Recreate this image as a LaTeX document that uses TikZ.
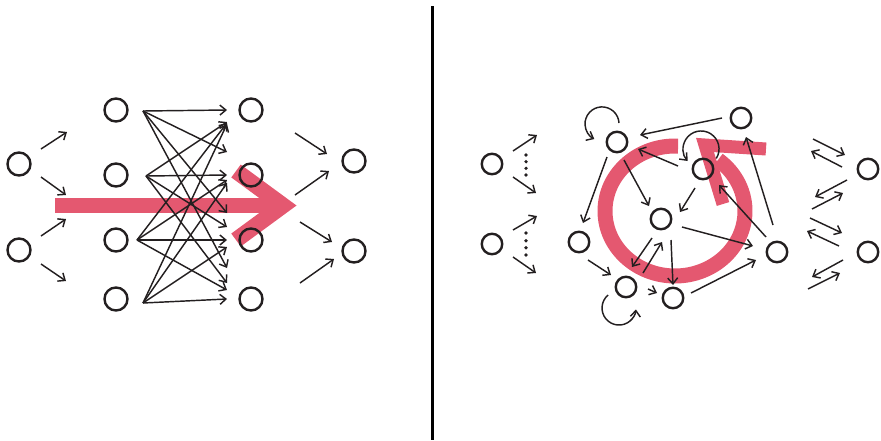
\documentclass[tikz,border=0pt]{standalone}
\usetikzlibrary{arrows.meta,calc}
\definecolor{ribbon}{RGB}{228,88,112}
\definecolor{ink}{RGB}{35,31,32}
\begin{document}
\begin{tikzpicture}[x=1pt,y=-1pt,
  unit/.style={circle,draw=ink,line width=2.4pt,minimum size=23pt,inner sep=0pt},
  runit/.style={unit,minimum size=20.5pt},
  conn/.style={draw=ink,line width=1.45pt,-{Straight Barb[length=6pt,width=10pt]}},
  band/.style={draw=ribbon,line cap=butt},
  dotmark/.style={fill=ink,draw=none,circle,minimum size=3.6pt,inner sep=0pt},
]
\useasboundingbox (0,0) rectangle (881,440);

% ---------- broad red arrows (drawn first, under the network) ----------
% feed-forward flow
\draw[band,line width=15pt] (55,205.5) -- (272,205.5);
\draw[band,line width=16pt,line join=miter] (236,171) -- (283,205.5) -- (236,240);
% recurrent flow: open ring with a barb head
\draw[band,line width=15pt] (678.05,146.06)
  arc[start angle=-87.5,end angle=-412,x radius=70,y radius=65];
\draw[band,line width=13pt,line join=miter] (766,149) -- (705,145) -- (723,204);

% ---------- divider ----------
\draw[draw=black,line width=3pt] (432,6) -- (432,440);

% ---------- feed-forward network ----------
\node[unit] (in1) at (19,164) {};
\node[unit] (in2) at (19,250) {};
\foreach \k/\y in {1/110,2/175,3/240,4/299}{
  \node[unit] (h1-\k) at (116,\y) {};
  \node[unit] (h2-\k) at (251,\y) {};
}
\node[unit] (out1) at (354,161) {};
\node[unit] (out2) at (354,251) {};

% input fan-out
\draw[conn] ($(in1)+(22,-15)$) -- ($(in1)+(48,-32)$);
\draw[conn] ($(in1)+(22,13)$)  -- ($(in1)+(47,31)$);
\draw[conn] ($(in2)+(22,-14)$) -- ($(in2)+(47,-31)$);
\draw[conn] ($(in2)+(22,14)$)  -- ($(in2)+(47,31)$);

% dense layer-to-layer links
\coordinate (s1) at ($(h1-1)+(27,1)$);
\coordinate (s2) at ($(h1-2)+(30,1)$);
\coordinate (s3) at ($(h1-3)+(21,0)$);
\coordinate (s4) at ($(h1-4)+(27,4)$);
\foreach \i/\j/\d in {1/1/0,2/1/12,3/1/13,4/1/14,
                      1/2/-23,2/2/0,3/2/5,4/2/8,
                      1/3/-27,2/3/-13,3/3/0,4/3/7,
                      1/4/-31,2/4/-16,3/4/-9,4/4/0}{
  \draw[conn] (s\i) -- ($(h2-\j)+(-24,\d)$);
}

% into the outputs
\draw[conn] ($(h2-1)+(44,23)$)  -- ($(out1)+(-27,-7)$);
\draw[conn] ($(h2-2)+(44,20)$)  -- ($(out1)+(-25,10)$);
\draw[conn] ($(h2-3)+(49,-18)$) -- ($(out2)+(-22,-9)$);
\draw[conn] ($(h2-4)+(49,-16)$) -- ($(out2)+(-20,8)$);

% ---------- recurrent network ----------
\node[runit] (ri1) at (492,164) {};
\node[runit] (ri2) at (492,244) {};
\node[runit] (A) at (617,142) {};
\node[runit] (B) at (741,118) {};
\node[runit] (C) at (703,169) {};
\node[runit] (D) at (661,219) {};
\node[runit] (E) at (777,252) {};
\node[runit] (F) at (673,298) {};
\node[runit] (G) at (626,287) {};
\node[runit] (H) at (579,242) {};
\node[runit] (ro1) at (868,169) {};
\node[runit] (ro2) at (868,252) {};

% inputs with elided fan-out
\draw[conn] ($(ri1)+(21,-13)$) -- ($(ri1)+(45,-29)$);
\draw[conn] ($(ri1)+(21,13)$)  -- ($(ri1)+(44,29)$);
\draw[conn] ($(ri2)+(21,-14)$) -- ($(ri2)+(45,-28)$);
\draw[conn] ($(ri2)+(21,13)$)  -- ($(ri2)+(44,29)$);
\foreach \dy [count=\n] in {-9,-2.3,4.3,11}{
  \node[dotmark] (da\n) at ($(ri1)+(34,\dy)$) {};
}
\foreach \dy [count=\n] in {-11,-3.3,3.7,11}{
  \node[dotmark] (db\n) at ($(ri2)+(34,\dy)$) {};
}

% internal links
\draw[conn] ($(B)+(-19,0)$)  -- ($(A)+(23,-7)$);
\draw[conn] ($(C)+(-25,-3)$) -- ($(A)+(21,7)$);
\draw[conn] ($(A)+(7,18)$)   -- ($(D)+(-12,-13)$);
\draw[conn] ($(C)+(-8,19)$)  -- ($(D)+(19,-7)$);
\draw[conn] ($(E)+(-4,-27)$) -- ($(B)+(5,19)$);
\draw[conn] ($(E)+(-11,-15)$) -- ($(C)+(16,16)$);
\draw[conn] ($(D)+(21,8)$)   -- ($(E)+(-24,-6)$);
\draw[conn] ($(D)+(-9,19)$)  -- ($(G)+(6,-20)$);
\draw[conn] ($(G)+(17,-14)$) -- ($(D)+(1,23)$);
\draw[conn] ($(D)+(10,21)$)  -- ($(F)+(0,-13)$);
\draw[conn] ($(F)+(18,-5)$)  -- ($(E)+(-21,8)$);
\draw[conn] ($(G)+(22,2)$)   -- ($(F)+(-16,-5)$);
\draw[conn] ($(H)+(9,18)$)   -- ($(G)+(-15,-12)$);
\draw[conn] ($(A)+(-10,15)$) -- ($(H)+(4,-19)$);

% self-loops
\draw[conn] ($(A)+(2,-19)$) arc[start angle=-3,end angle=-243,radius=17];
\draw[conn] ($(C)+(13.3,-10.5)$) arc[start angle=32,end angle=-222,radius=18];
\draw[conn] ($(G)+(-17.9,8)$) arc[start angle=230,end angle=5,radius=17];

% two-way links towards the outputs
\draw[conn] ($(ro1)+(-55,-30)$) -- ($(ro1)+(-23,-14)$);
\draw[conn] ($(ro1)+(-26,-2)$)  -- ($(ro1)+(-57,-18)$);
\draw[conn] ($(ro1)+(-21,11)$)  -- ($(ro1)+(-53,28)$);
\draw[conn] ($(ro1)+(-56,40)$)  -- ($(ro1)+(-25,24)$);
\draw[conn] ($(ro2)+(-58,-34)$) -- ($(ro2)+(-26,-19)$);
\draw[conn] ($(ro2)+(-29,-6)$)  -- ($(ro2)+(-61,-21)$);
\draw[conn] ($(ro2)+(-25,8)$)   -- ($(ro2)+(-56,25)$);
\draw[conn] ($(ro2)+(-60,37)$)  -- ($(ro2)+(-28,21)$);
\end{tikzpicture}
\end{document}
